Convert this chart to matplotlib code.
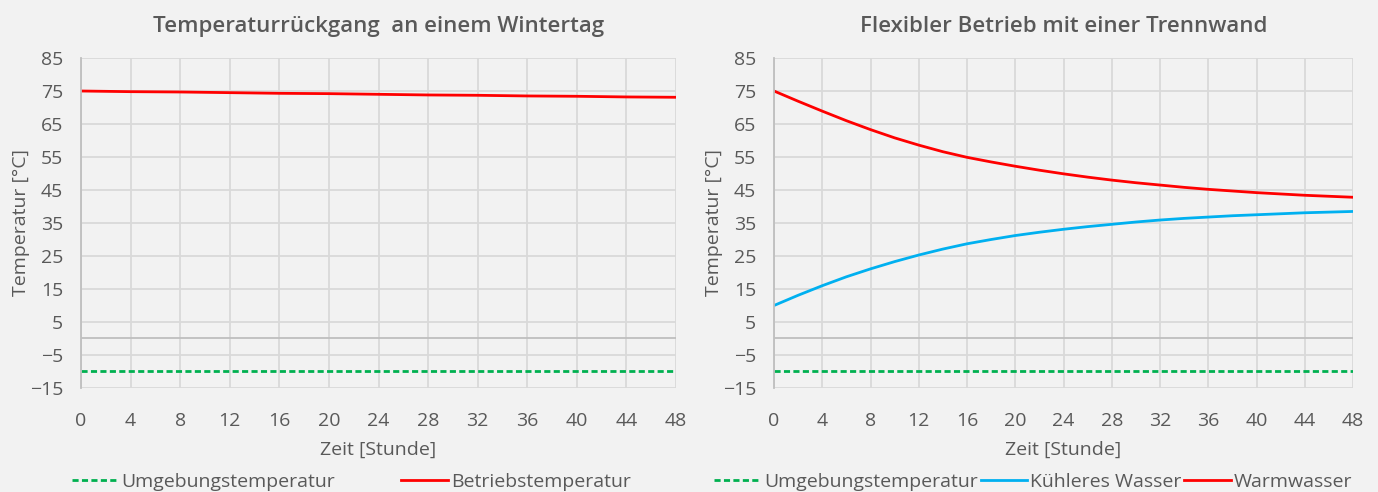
import matplotlib.pyplot as plt

plt.rcParams['font.family'] = ['Open Sans', 'DejaVu Sans']

# data
hours_left = [0, 4, 8, 12, 16, 20, 24, 28, 32, 36, 40, 44, 48]
betrieb = [75.0, 74.8, 74.7, 74.5, 74.3, 74.2, 74.0, 73.8, 73.7, 73.5, 73.4, 73.2, 73.1]

hours = [0, 2, 4, 6, 8, 10, 12, 14, 16, 18, 20, 22, 24, 26, 28, 30, 32, 34, 36, 38, 40, 42, 44, 46, 48]
warm = [75.0, 71.9, 68.9, 66.0, 63.3, 60.8, 58.6, 56.6, 54.9, 53.5, 52.2, 51.0, 49.9,
        48.9, 48.0, 47.2, 46.5, 45.8, 45.2, 44.7, 44.2, 43.8, 43.4, 43.1, 42.8]
kuehl = [10.0, 13.1, 16.0, 18.7, 21.1, 23.3, 25.3, 27.1, 28.7, 30.0, 31.2, 32.2, 33.1,
         33.9, 34.6, 35.3, 35.9, 36.4, 36.8, 37.2, 37.5, 37.8, 38.1, 38.3, 38.5]

umgebung_x = [0, 48]
umgebung = [-10, -10]

xticks = list(range(0, 49, 4))
yticks = list(range(-15, 86, 10))

bg = '#f2f2f2'
txt = '#595959'
grid = '#d9d9d9'

fig = plt.figure(figsize=(13.78, 4.92), dpi=100, facecolor=bg)
ax1 = fig.add_axes([0.0588, 0.2114, 0.4318, 0.6707])
ax2 = fig.add_axes([0.5617, 0.2114, 0.4202, 0.6707])


def style(ax, title):
    ax.set_facecolor(bg)
    ax.set_xlim(0, 48)
    ax.set_ylim(-15, 85)
    ax.set_xticks(xticks)
    ax.set_yticks(yticks)
    ax.grid(True, color=grid, linewidth=1.3)
    ax.set_axisbelow(True)
    for s in ['top', 'right', 'bottom']:
        ax.spines[s].set_visible(False)
    ax.spines['left'].set_color('#bfbfbf')
    ax.spines['left'].set_linewidth(1.3)
    ax.axhline(0, color='#bfbfbf', linewidth=1.3, zorder=1)
    ax.tick_params(length=0, labelsize=14, colors=txt)
    ax.tick_params(axis='x', pad=17)
    ax.tick_params(axis='y', pad=13)
    ax.set_title(title, fontsize=16, color=txt, pad=19, fontweight='semibold')
    ax.set_xlabel('Zeit [Stunde]', fontsize=14, color=txt, labelpad=8)
    ax.set_ylabel('Temperatur [°C]', fontsize=14, color=txt, labelpad=0)


style(ax1, 'Temperaturrückgang  an einem Wintertag')
ax1.plot(umgebung_x, umgebung, color='#00b050', linestyle=(0, (2.2, 1.2)), linewidth=2,
         label='Umgebungstemperatur')
ax1.plot(hours_left, betrieb, color='#ff0000', linewidth=2, label='Betriebstemperatur')
ax1.legend(loc='upper center', bbox_to_anchor=(0.454, -0.205), ncol=2, frameon=False,
           fontsize=14, labelcolor=txt, handlelength=2.4, handletextpad=0.15,
           columnspacing=3.4)

style(ax2, 'Flexibler Betrieb mit einer Trennwand')
ax2.plot(umgebung_x, umgebung, color='#00b050', linestyle=(0, (2.2, 1.2)), linewidth=2,
         label='Umgebungstemperatur')
ax2.plot(hours, kuehl, color='#00b0f0', linewidth=2, label='Kühleres Wasser')
ax2.plot(hours, warm, color='#ff0000', linewidth=2, label='Warmwasser')
ax2.legend(loc='upper center', bbox_to_anchor=(0.448, -0.205), ncol=3, frameon=False,
           fontsize=14, labelcolor=txt, handlelength=2.4, handletextpad=0.15,
           columnspacing=0.15)

fig.savefig('out.png', dpi=100, facecolor=bg)
